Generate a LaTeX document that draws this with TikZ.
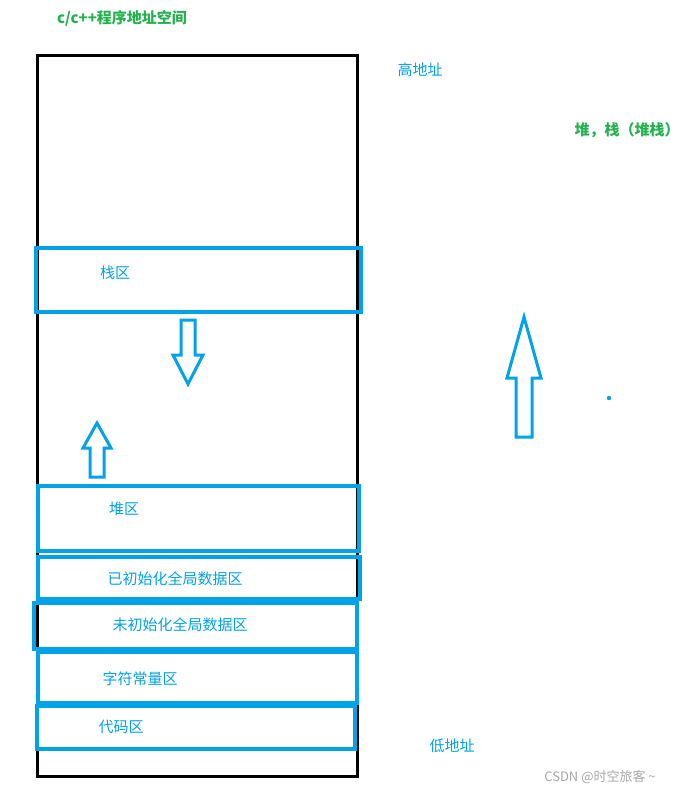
\documentclass[tikz,border=0pt]{standalone}
\usepackage{fontspec}
\setmainfont{Liberation Serif}
\newfontfamily\cjk{Noto Sans CJK SC}
\begin{document}
\begin{tikzpicture}[x=1pt,y=-1pt]
\definecolor{bl}{HTML}{00A2E8}
\definecolor{gr}{HTML}{22B14C}
\tikzset{zone/.style={draw=bl,line width=3.5pt},
  lbl/.style={font=\cjk\fontsize{15}{17}\selectfont,text=bl},
  glbl/.style={font=\cjk\bfseries\fontsize{15}{17}\selectfont,text=gr},
  arr/.style={draw=bl,line width=3pt,line join=miter}}
\useasboundingbox (0,0) rectangle (700,797);
\draw[line width=3pt] (37,56) rectangle (357,776);
\node[zone,minimum width=325,minimum height=64,inner sep=0] (s) at (198.5,280) {};
\node[lbl] (st) at (115,273) {栈区};
\node[zone,minimum width=321,minimum height=65,inner sep=0] (h) at (198.5,518.5) {};
\node[lbl] (ht) at (124,509) {堆区};
\node[zone,minimum width=322,minimum height=42,inner sep=0] (i) at (199,578) {};
\node[lbl] (it) at (175,579) {已初始化全局数据区};
\node[zone,minimum width=323,minimum height=46,inner sep=0] (u) at (195.5,626) {};
\node[lbl] (ut) at (180,625) {未初始化全局数据区};
\node[zone,minimum width=319,minimum height=51,inner sep=0] (c) at (197.5,677.5) {};
\node[lbl] (ct) at (140,679) {字符常量区};
\node[zone,minimum width=318,minimum height=43,inner sep=0] (d) at (196,727.5) {};
\node[lbl] (dt) at (121,727) {代码区};
% arrows
\draw[arr] (181,320) -- (195,320) -- (195,355) -- (203,355) -- (188,384) -- (173,355) -- (181,355) -- cycle;
\draw[arr] (90,477) -- (104,477) -- (104,448) -- (111,448) -- (97,423) -- (83,448) -- (90,448) -- cycle;
\draw[arr] (516,437) -- (532,437) -- (532,378) -- (541,378) -- (524,317) -- (507,378) -- (516,378) -- cycle;
\fill[bl] (609,398) circle (2.2);
\node[glbl] (t1) at (122,18) {c/c++程序地址空间};
\node[glbl] (t2) at (627,130) {堆，栈（堆栈）};
\node[lbl] (hi) at (420,70) {高地址};
\node[lbl] (lo) at (452,746) {低地址};
\node[font=\cjk\fontsize{13}{15}\selectfont,text=gray!70] (w) at (600,777) {CSDN @时空旅客 \textasciitilde};
\end{tikzpicture}
\end{document}
